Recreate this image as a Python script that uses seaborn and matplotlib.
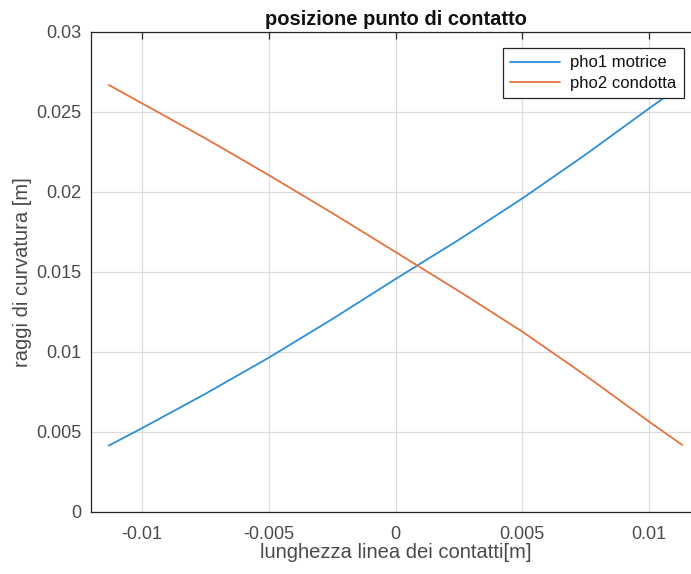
import matplotlib
matplotlib.use("Agg")
import matplotlib.pyplot as plt
import seaborn as sns
import pandas as pd

# position along the line of action [m]
s = [-0.0113, -0.01, -0.0075, -0.005, -0.0025, 0.0, 0.0025, 0.005, 0.0075, 0.01, 0.0113]
# radius of curvature of the driving wheel profile [m]
rho1 = [0.00415, 0.00523, 0.00738, 0.00964, 0.01205, 0.01456, 0.01702, 0.01960, 0.02235, 0.02523, 0.02670]
# radius of curvature of the driven wheel profile [m]
rho2 = [0.02669, 0.02555, 0.02336, 0.02106, 0.01869, 0.01625, 0.01380, 0.01127, 0.00852, 0.00564, 0.00419]

series_names = ["pho1 motrice", "pho2 condotta"]
xticks = [-0.01, -0.005, 0.0, 0.005, 0.01]
xtick_labels = ["-0.01", "-0.005", "0", "0.005", "0.01"]
yticks = [0.0, 0.005, 0.01, 0.015, 0.02, 0.025, 0.03]
ytick_labels = ["0", "0.005", "0.01", "0.015", "0.02", "0.025", "0.03"]

df = pd.DataFrame({
    "s": s + s,
    "rho": rho1 + rho2,
    "curva": [series_names[0]] * len(s) + [series_names[1]] * len(s),
})

sns.set_theme(style="whitegrid")
plt.rcParams["font.family"] = ["Liberation Sans", "DejaVu Sans"]

W, H = 691, 574
fig = plt.figure(figsize=(W / 100, H / 100), dpi=100)
# the plot box runs a little past the right border of the image
ax = fig.add_axes([91 / W, 1 - 512 / H, (700 - 91) / W, (512 - 32) / H])

dark = "#262626"
sns.lineplot(data=df, x="s", y="rho", hue="curva",
             palette=["#2c8fd6", "#e4743f"], linewidth=1.3, ax=ax)

ax.set_xlim(-0.012, 0.012)
ax.set_ylim(0, 0.03)
ax.set_xticks(xticks)
ax.set_xticklabels(xtick_labels)
ax.set_yticks(yticks)
ax.set_yticklabels(ytick_labels)

ax.grid(True, color="#dcdcdc", linewidth=0.9)
for side in ["left", "bottom", "top", "right"]:
    ax.spines[side].set_visible(True)
    ax.spines[side].set_color(dark)
    ax.spines[side].set_linewidth(0.9)
ax.tick_params(direction="in", length=5, width=0.9, color=dark,
               top=True, right=True, labelsize=13, labelcolor="#4a4a4a")
ax.tick_params(axis="x", pad=10)
ax.tick_params(axis="y", pad=7)

ax.set_title("posizione punto di contatto", fontsize=14.5, fontweight="bold",
             color="#111111", pad=5)
ax.set_xlabel("lunghezza linea dei contatti[m]", fontsize=14.5, color="#4a4a4a", labelpad=0)
ax.set_ylabel("raggi di curvatura [m]", fontsize=14.5, color="#4a4a4a", labelpad=3)

leg = ax.legend(loc="upper right", bbox_to_anchor=(1 - 16 / 609, 1 - 16 / 480),
                fontsize=12, frameon=True, fancybox=False, borderaxespad=0,
                handlelength=3.0, handletextpad=0.6, borderpad=0.45, labelspacing=0.32)
leg.set_title(None)
leg.get_frame().set_edgecolor(dark)
leg.get_frame().set_linewidth(0.9)
leg.get_frame().set_alpha(1)
for t in leg.get_texts():
    t.set_color("#111111")

fig.savefig("out.png", dpi=100)
